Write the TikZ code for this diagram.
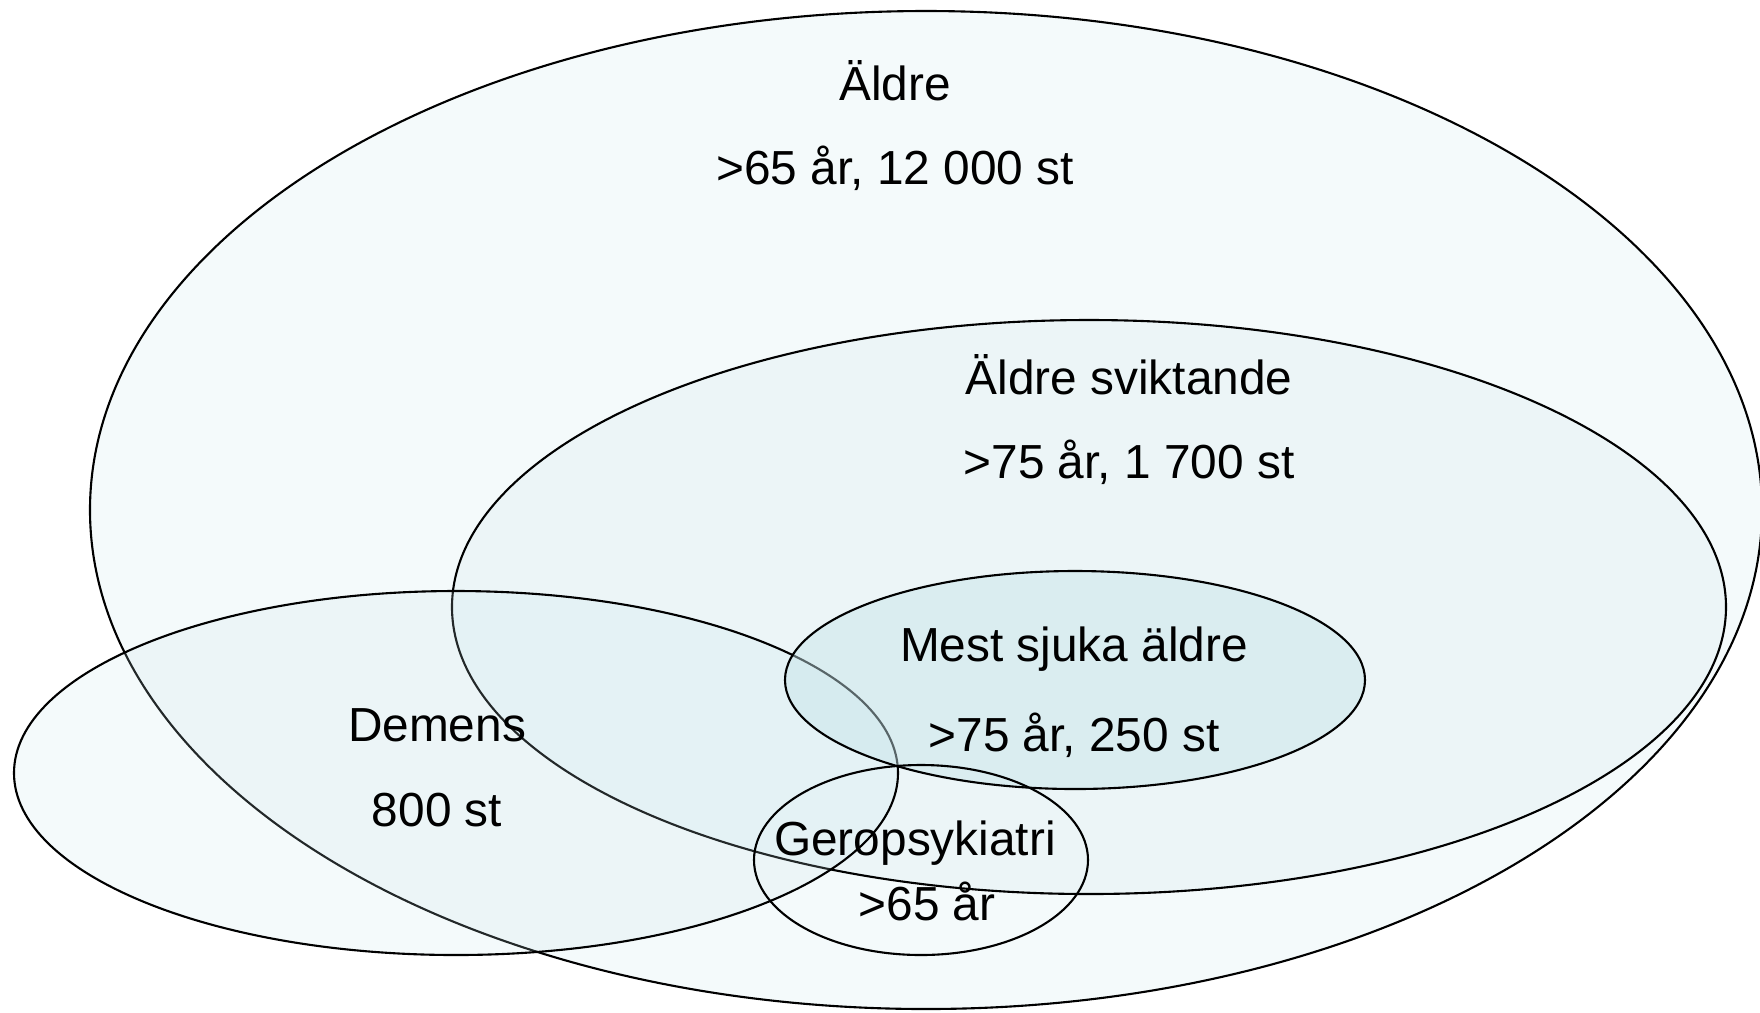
\documentclass[tikz,border=0pt]{standalone}
\usepackage{fontspec}
\setmainfont{Liberation Sans}
\definecolor{venn}{RGB}{196,226,232}
\begin{document}
\begin{tikzpicture}[
  set/.style={draw=black, line width=0.6pt, fill=venn, fill opacity=0.18},
  lbl/.style={inner sep=0pt, font=\fontsize{13.6}{16}\selectfont}
]
\useasboundingbox (0,0) rectangle (17.6,-10.12);

% sets
\draw[set] (9.26,-5.10) ellipse [x radius=8.36cm, y radius=4.99cm];
\draw[set] (10.89,-6.07) ellipse [x radius=6.37cm, y radius=2.87cm];
\draw[set] (4.56,-7.73) ellipse [x radius=4.42cm, y radius=1.82cm];
\draw[set, fill opacity=0.45] (10.75,-6.80) ellipse [x radius=2.90cm, y radius=1.09cm];
\draw[draw=black, line width=0.6pt] (9.21,-8.60) ellipse [x radius=1.67cm, y radius=0.95cm];

% labels
\node[lbl] (aldre) at (8.95,-0.81) {Äldre};
\node[lbl] (aldreN) at (8.95,-1.68) {>65 år, 12 000 st};

\node[lbl] (svikt) at (11.29,-3.75) {Äldre sviktande};
\node[lbl] (sviktN) at (11.29,-4.62) {>75 år, 1 700 st};

\node[lbl] (mest) at (10.74,-6.49) {Mest sjuka äldre};
\node[lbl] (mestN) at (10.74,-7.35) {>75 år, 250 st};

\node[lbl] (demens) at (4.37,-7.25) {Demens};
\node[lbl] (demensN) at (4.37,-8.10) {800 st};

\node[lbl] (gero) at (9.15,-8.43) {Geropsykiatri};
\node[lbl] (geroN) at (9.27,-9.01) {>65 år};
\end{tikzpicture}
\end{document}
